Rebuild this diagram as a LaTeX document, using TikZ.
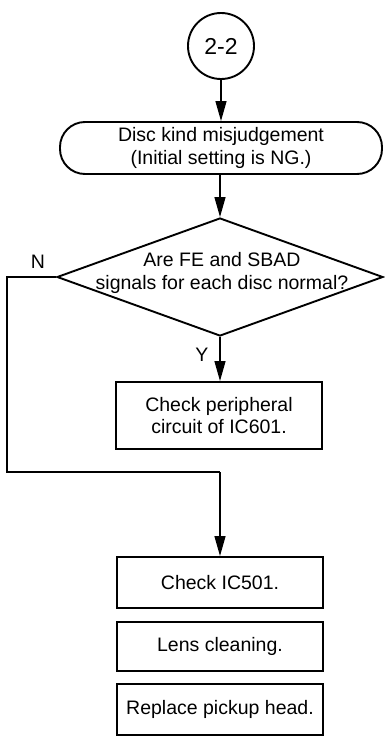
\documentclass[tikz,border=0pt]{standalone}
\usepackage{fontspec}
\setmainfont{Liberation Sans}
\usetikzlibrary{arrows.meta,shapes.geometric}
\begin{document}
\begin{tikzpicture}[x=1pt,y=-1pt,
  every node/.style={font=\fontsize{19.5}{22.5}\selectfont, align=center},
  boxline/.style={draw, line width=1.9pt},
  procbox/.style={boxline, rectangle, minimum width=206pt, inner sep=0pt},
  conn/.style={line width=1.3pt},
  arr/.style={conn, -{Triangle[length=20pt,width=11pt]}},
  lbl/.style={inner sep=0pt}]
\useasboundingbox (0,0) rectangle (384,736);
\node[boxline, circle, minimum size=66pt, inner sep=0pt, font=\fontsize{23}{26}\selectfont] (start) at (221,46) {2-2};
\node[boxline, rectangle, rounded corners=25pt, minimum width=322pt, minimum height=52pt, inner sep=0pt] (term) at (221,148) {Disc kind misjudgement\\(Initial setting is NG.)};
\node[boxline, diamond, minimum width=326pt, minimum height=118pt, inner sep=0pt] (dia) at (220,277) {};
\node[lbl] (diatext) at (222,273) {Are FE and SBAD\\signals for each disc normal?};
\node[procbox, minimum height=67pt] (periph) at (219,415.5) {Check peripheral\\circuit of IC601.};
\node[procbox, minimum height=51pt] (ic501) at (220,582.5) {Check IC501.};
\node[procbox, minimum height=49pt] (lens) at (220,646.5) {Lens cleaning.};
\node[procbox, minimum height=51pt] (pickup) at (220,709.5) {Replace pickup head.};
\node[lbl] (nlabel) at (38,262) {N};
\node[lbl] (ylabel) at (202,355) {Y};
\coordinate (nc1) at (7,277);
\coordinate (nc2) at (7,472);
\coordinate (nc3) at (220,472);
\draw[arr] (start.south) -- (start.south |- term.north);
\draw[arr] (term.south -| dia.north) -- (dia.north);
\draw[arr] (dia.south) -- (dia.south |- periph.north);
\draw[conn] (dia.west) -- (nc1) -- (nc2) -- (nc3);
\draw[arr] (nc3) -- (ic501.north);
\end{tikzpicture}
\end{document}
